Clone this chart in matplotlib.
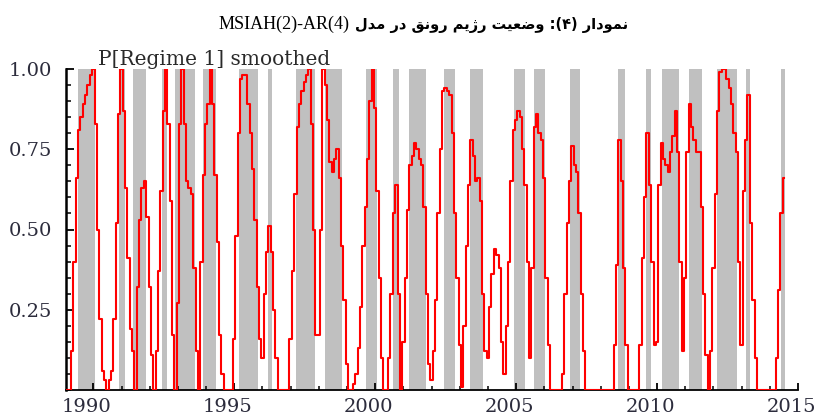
import matplotlib
matplotlib.use("Agg")
import matplotlib.pyplot as plt
import matplotlib.transforms as mtransforms
from matplotlib.ticker import MultipleLocator, FixedLocator
import numpy as np

# smoothed probability of regime 1, monthly from 1989(1)
prob = [
    0.00, 0.00, 0.00, 0.12, 0.40, 0.66, 0.81, 0.85, 0.89, 0.92, 0.95, 0.98,
    1.00, 0.83, 0.50, 0.22, 0.06, 0.03, 0.00, 0.03, 0.06, 0.22, 0.52, 0.86,
    1.00, 0.87, 0.63, 0.41, 0.19, 0.12, 0.00, 0.32, 0.53, 0.63, 0.65, 0.54,
    0.32, 0.11, 0.00, 0.12, 0.37, 0.62, 0.87, 1.00, 0.83, 0.59, 0.17, 0.00,
    0.27, 0.83, 1.00, 0.83, 0.65, 0.63, 0.61, 0.38, 0.12, 0.00, 0.40, 0.67,
    0.83, 0.89, 1.00, 0.89, 0.67, 0.46, 0.17, 0.05, 0.00, 0.00, 0.00, 0.00,
    0.16, 0.48, 0.80, 0.97, 0.98, 0.98, 0.89, 0.80, 0.69, 0.53, 0.32, 0.16,
    0.10, 0.30, 0.43, 0.51, 0.43, 0.25, 0.10, 0.00, 0.00, 0.00, 0.00, 0.00,
    0.16, 0.37, 0.61, 0.82, 0.89, 0.93, 0.96, 0.98, 1.00, 0.83, 0.50, 0.17,
    0.17, 0.50, 1.00, 0.95, 0.84, 0.71, 0.68, 0.72, 0.75, 0.66, 0.45, 0.28,
    0.08, 0.00, 0.00, 0.02, 0.05, 0.13, 0.26, 0.45, 0.57, 0.72, 0.90, 1.00,
    0.88, 0.62, 0.35, 0.10, 0.00, 0.00, 0.10, 0.30, 0.55, 0.64, 0.30, 0.00,
    0.15, 0.35, 0.56, 0.70, 0.73, 0.77, 0.75, 0.72, 0.70, 0.57, 0.30, 0.08,
    0.03, 0.12, 0.28, 0.55, 0.75, 0.93, 0.94, 0.93, 0.92, 0.80, 0.55, 0.35,
    0.14, 0.01, 0.20, 0.45, 0.64, 0.78, 0.73, 0.65, 0.66, 0.59, 0.30, 0.12,
    0.10, 0.26, 0.36, 0.44, 0.42, 0.38, 0.15, 0.05, 0.20, 0.40, 0.65, 0.81,
    0.84, 0.87, 0.85, 0.75, 0.64, 0.40, 0.10, 0.38, 0.82, 0.86, 0.80, 0.78,
    0.66, 0.35, 0.14, 0.00, 0.00, 0.00, 0.00, 0.00, 0.05, 0.30, 0.52, 0.65,
    0.76, 0.70, 0.68, 0.55, 0.30, 0.12, 0.00, 0.00, 0.00, 0.00, 0.00, 0.00,
    0.00, 0.00, 0.00, 0.00, 0.00, 0.00, 0.14, 0.39, 0.78, 0.65, 0.38, 0.14,
    0.00, 0.00, 0.00, 0.00, 0.00, 0.14, 0.41, 0.60, 0.80, 0.64, 0.40, 0.14,
    0.15, 0.64, 0.77, 0.72, 0.70, 0.68, 0.74, 0.79, 0.87, 0.74, 0.40, 0.12,
    0.35, 0.74, 0.89, 0.82, 0.78, 0.74, 0.74, 0.57, 0.30, 0.11, 0.00, 0.12,
    0.38, 0.61, 0.87, 0.99, 1.00, 1.00, 0.97, 0.94, 0.89, 0.80, 0.74, 0.40,
    0.14, 0.62, 0.78, 0.92, 0.52, 0.28, 0.10, 0.00, 0.00, 0.00, 0.00, 0.00,
    0.00, 0.00, 0.00, 0.10, 0.31, 0.55, 0.66,
]

# periods classified as regime 1 (shaded), decimal years
reg_start = [1989.46, 1990.92, 1991.40, 1992.43, 1992.90, 1993.90, 1995.17,
             1996.18, 1997.19, 1998.21, 1999.69, 2000.62, 2001.20, 2002.44,
             2003.38, 2004.93, 2005.64, 2006.90, 2008.62, 2009.62, 2010.19,
             2011.12, 2012.14, 2013.17, 2014.41]
reg_end = [1990.06, 1991.12, 1991.87, 1992.60, 1993.61, 1994.35, 1995.85,
           1996.33, 1997.86, 1998.81, 2000.05, 2000.85, 2001.80, 2002.83,
           2003.83, 2005.33, 2006.02, 2007.28, 2008.85, 2009.77, 2010.78,
           2011.60, 2012.84, 2013.31, 2014.55]

year_labels = [1990, 1995, 2000, 2005, 2010, 2015]
title_fa = "نمودار (۴): وضعیت رژیم رونق در مدل"
title_en = "MSIAH(2)-AR(4)"
subtitle = "P[Regime 1] smoothed"

# matplotlib has no arabic shaping, so pick presentation forms by hand
FORMS = {
    'ن': ('\uFEE5', '\uFEE6', '\uFEE7', '\uFEE8'),
    'م': ('\uFEE1', '\uFEE2', '\uFEE3', '\uFEE4'),
    'و': ('\uFEED', '\uFEEE'),
    'د': ('\uFEA9', '\uFEAA'),
    'ا': ('\uFE8D', '\uFE8E'),
    'ر': ('\uFEAD', '\uFEAE'),
    'ض': ('\uFEBD', '\uFEBE', '\uFEBF', '\uFEC0'),
    'ع': ('\uFEC9', '\uFECA', '\uFECB', '\uFECC'),
    'ی': ('\uFBFC', '\uFBFD', '\uFBFE', '\uFBFF'),
    'ت': ('\uFE95', '\uFE96', '\uFE97', '\uFE98'),
    'ژ': ('\uFB8A', '\uFB8B'),
    'ق': ('\uFED5', '\uFED6', '\uFED7', '\uFED8'),
    'ل': ('\uFEDD', '\uFEDE', '\uFEDF', '\uFEE0'),
}


def shape_rtl(s):
    out = []
    for i, ch in enumerate(s):
        f = FORMS.get(ch)
        if f is None:
            out.append(ch)
            continue
        prev = s[i - 1] if i > 0 else ''
        nxt = s[i + 1] if i + 1 < len(s) else ''
        jp = prev in FORMS and len(FORMS[prev]) == 4
        jn = len(f) == 4 and nxt in FORMS
        if jp and jn:
            out.append(f[3])
        elif jp:
            out.append(f[1])
        elif jn:
            out.append(f[2])
        else:
            out.append(f[0])
    vis = ''.join(out)[::-1]
    return vis.translate(str.maketrans('()', ')('))


t = 1989 + np.arange(len(prob)) / 12.0

fig = plt.figure(figsize=(8.17, 4.18), dpi=100)
ax = fig.add_axes([66 / 817, 1 - 390 / 418, (798 - 66) / 817, 321 / 418])

for a, b in zip(reg_start, reg_end):
    ax.axvspan(a, b, color='#c0c0c0', lw=0, zorder=1)

ax.plot(t, prob, color='red', lw=1.5, drawstyle='steps-mid', zorder=3)

ax.set_xlim(1989.03, 2015.0)
ax.set_ylim(0, 1)

for s in ['top', 'right']:
    ax.spines[s].set_visible(False)
ax.spines['left'].set_linewidth(1.8)
ax.spines['bottom'].set_linewidth(1.3)

lab_col = '#2c2c3c'
ax.yaxis.set_major_locator(FixedLocator([0.25, 0.5, 0.75, 1.0]))
ax.yaxis.set_minor_locator(MultipleLocator(0.05))
ax.set_yticklabels(['0.25', '0.50', '0.75', '1.00'])
ax.xaxis.set_major_locator(FixedLocator(year_labels))
ax.xaxis.set_minor_locator(MultipleLocator(1))
ax.set_xticklabels([str(y) for y in year_labels])

ax.tick_params(axis='y', which='major', direction='in', length=6, width=1.3,
               pad=10, labelsize=14, labelcolor=lab_col)
ax.tick_params(axis='y', which='minor', direction='in', length=3.5, width=1.1)
ax.tick_params(axis='x', which='major', direction='in', length=5, width=1.3,
               pad=6, labelsize=14, labelcolor=lab_col)
ax.tick_params(axis='x', which='minor', direction='in', length=3, width=1.1)
for lab in ax.get_yticklabels() + ax.get_xticklabels():
    lab.set_family('DejaVu Serif')
shift = mtransforms.ScaledTranslation(-7 / 100, 0, fig.dpi_scale_trans)
for lab in ax.get_xticklabels():
    lab.set_transform(lab.get_transform() + shift)

fig.text(98 / 817, 1 - 65 / 418, subtitle, family='DejaVu Serif', fontsize=14.5,
         color='#2a2a2a', va='baseline', ha='left')

fig.text(350 / 817, 1 - 29 / 418, title_en, family='Liberation Serif',
         fontsize=13, ha='right', va='baseline')
fig.text(355 / 817, 1 - 29 / 418, shape_rtl(title_fa), family=['DejaVu Sans'],
         fontweight='bold', fontsize=10.5, ha='left', va='baseline')

fig.savefig('out.png', dpi=100)
